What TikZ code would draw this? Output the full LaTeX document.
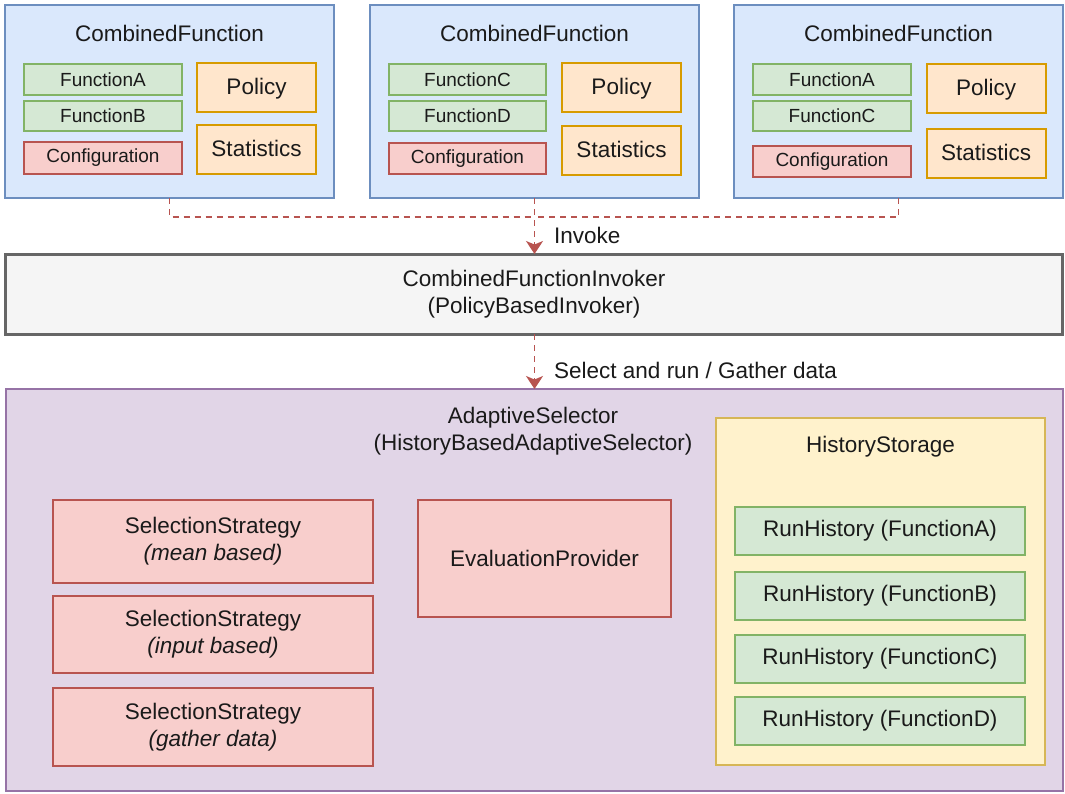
\documentclass[tikz,border=0pt]{standalone}
\usepackage{fontspec}
\setmainfont{Liberation Sans}
\usetikzlibrary{arrows.meta}

\definecolor{blueF}{HTML}{DAE8FC}\definecolor{blueS}{HTML}{6C8EBF}
\definecolor{greenF}{HTML}{D5E8D4}\definecolor{greenS}{HTML}{82B366}
\definecolor{redF}{HTML}{F8CECC}\definecolor{redS}{HTML}{B85450}
\definecolor{orangeF}{HTML}{FFE6CC}\definecolor{orangeS}{HTML}{D79B00}
\definecolor{grayF}{HTML}{F5F5F5}\definecolor{grayS}{HTML}{666666}
\definecolor{purpleF}{HTML}{E1D5E7}\definecolor{purpleS}{HTML}{9673A6}
\definecolor{yellowF}{HTML}{FFF2CC}\definecolor{yellowS}{HTML}{D6B656}
\definecolor{txt}{HTML}{1A1A1A}

\tikzset{
  box/.style={draw, line width=2pt, inner sep=0pt, outer sep=0pt, align=center, text=txt},
  cfbox/.style={box, draw=blueS, fill=blueF, minimum width=329pt, minimum height=193pt},
  fnbox/.style={box, draw=greenS, fill=greenF, small},
  cfgbox/.style={box, draw=redS, fill=redF, small},
  polbox/.style={box, draw=orangeS, fill=orangeF, big, minimum width=119pt, minimum height=49pt,
    text height=16pt, text depth=2pt},
  stratbox/.style={box, draw=redS, fill=redF, big, minimum width=320pt},
  runbox/.style={box, draw=greenS, fill=greenF, big, minimum width=290pt, minimum height=48pt},
  big/.style={font=\fontsize{22.5}{27}\selectfont, text=txt},
  small/.style={font=\fontsize{19}{23}\selectfont, text=txt},
  dlink/.style={draw=redS, line width=1.6pt, dash pattern=on 6pt off 5pt},
  tip/.style={-{Stealth[length=13pt, width=17pt, inset=3.5pt]}},
  lbl/.style={big, anchor=west, inner sep=0pt}
}

\begin{document}
\begin{tikzpicture}[x=1pt, y=-1pt]
\useasboundingbox (0,0) rectangle (1065,793);
\fill[white] (0,0) rectangle (1065,793);

% --- combined functions (top row) ---
\node[cfbox] (cf1) at (169.5,101.5) {};
\node[big] (cf1t) at (169.5,33) {CombinedFunction};
\node[fnbox, minimum width=158pt, minimum height=31pt] (cf1a) at (103,79.5) {FunctionA};
\node[fnbox, minimum width=158pt, minimum height=30pt] (cf1b) at (103,116) {FunctionB};
\node[cfgbox, minimum width=158pt, minimum height=32pt] (cf1c) at (103,158) {Configuration};
\node[polbox] (cf1p) at (256.5,87.5) {Policy};
\node[polbox] (cf1s) at (256.5,149.5) {Statistics};

\node[cfbox] (cf2) at (534.5,101.5) {};
\node[big] (cf2t) at (534.5,33) {CombinedFunction};
\node[fnbox, minimum width=157pt, minimum height=31pt] (cf2a) at (467.5,79.5) {FunctionC};
\node[fnbox, minimum width=157pt, minimum height=30pt] (cf2b) at (467.5,116) {FunctionD};
\node[cfgbox, minimum width=157pt, minimum height=31pt] (cf2c) at (467.5,158.5) {Configuration};
\node[polbox] (cf2p) at (621.5,87.5) {Policy};
\node[polbox] (cf2s) at (621.5,150) {Statistics};

\node[cfbox] (cf3) at (898.5,101.5) {};
\node[big] (cf3t) at (898.5,33) {CombinedFunction};
\node[fnbox, minimum width=158pt, minimum height=31pt] (cf3a) at (832,79.5) {FunctionA};
\node[fnbox, minimum width=158pt, minimum height=30pt] (cf3b) at (832,116) {FunctionC};
\node[cfgbox, minimum width=158pt, minimum height=31pt] (cf3c) at (832,161.5) {Configuration};
\node[polbox] (cf3p) at (986,88.5) {Policy};
\node[polbox] (cf3s) at (986,153.5) {Statistics};

% --- invoker ---
\node[box, draw=grayS, fill=grayF, line width=3pt, big, minimum width=1057pt, minimum height=80pt]
  (inv) at (534,294) {CombinedFunctionInvoker\\(PolicyBasedInvoker)};

% --- adaptive selector ---
\node[box, draw=purpleS, fill=purpleF, minimum width=1057pt, minimum height=402pt] (sel) at (534,590) {};
\node[big, align=center] (selt) at (533,431.5) {AdaptiveSelector\\(HistoryBasedAdaptiveSelector)};

\node[stratbox, minimum height=83pt] (s1) at (213,541.5) {SelectionStrategy\\\textit{(mean based)}};
\node[stratbox, minimum height=77pt] (s2) at (213,634.5) {SelectionStrategy\\\textit{(input based)}};
\node[stratbox, minimum height=78pt] (s3) at (213,727) {SelectionStrategy\\\textit{(gather data)}};

\node[box, draw=redS, fill=redF, big, minimum width=253pt, minimum height=117pt] (ev) at (544.5,558.5) {EvaluationProvider};

\node[box, draw=yellowS, fill=yellowF, minimum width=329pt, minimum height=347pt] (hs) at (880.5,591.5) {};
\node[big] (hst) at (880.5,447) {HistoryStorage};
\node[runbox] (rA) at (880,531) {RunHistory (FunctionA)};
\node[runbox] (rB) at (880,596) {RunHistory (FunctionB)};
\node[runbox] (rC) at (880,659) {RunHistory (FunctionC)};
\node[runbox] (rD) at (880,721) {RunHistory (FunctionD)};

% --- connectors ---
\coordinate (join) at (534.5,217);
\draw[dlink] (cf1.south) |- (join);
\draw[dlink] (cf3.south) |- (join);
\draw[dlink, tip] (cf2.south) -- (cf2.south |- inv.north);
\node[lbl] (invl) at (554,235) {Invoke};

\draw[dlink, tip] (inv.south -| cf2.south) -- (cf2.south |- sel.north);
\node[lbl] (runl) at (554,370) {Select and run / Gather data};
\end{tikzpicture}
\end{document}
